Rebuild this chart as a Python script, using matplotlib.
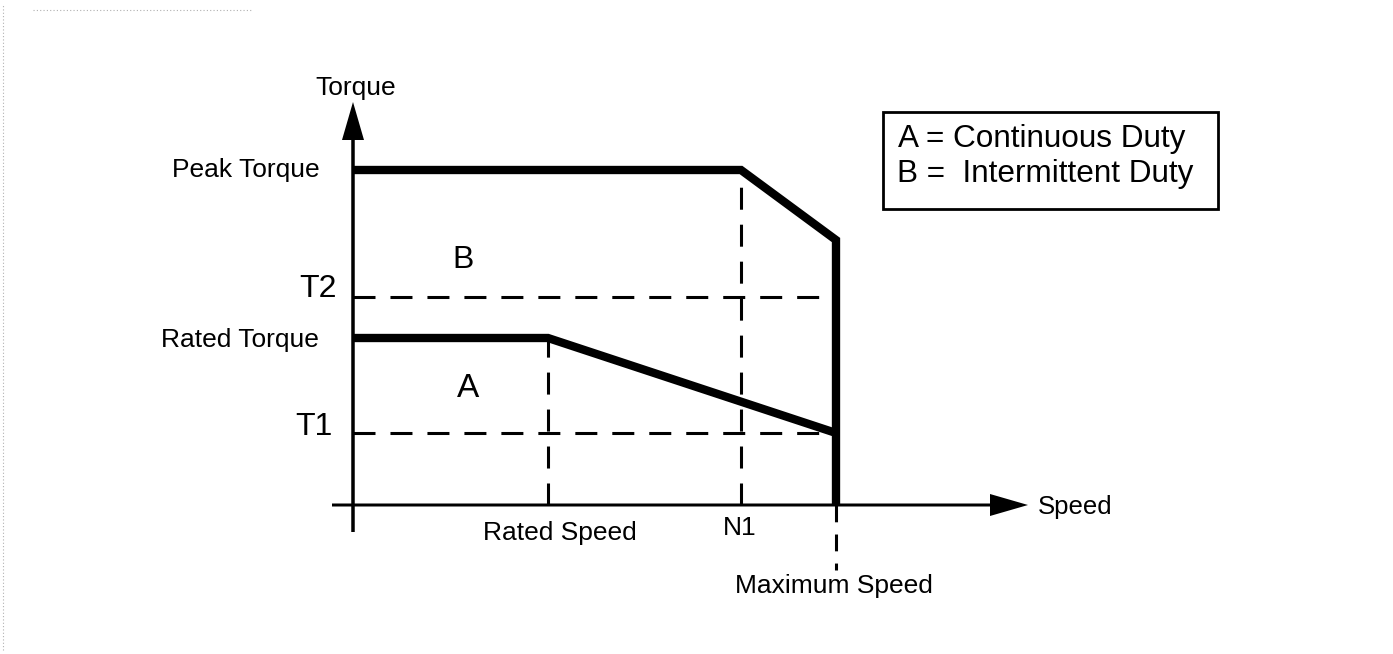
import matplotlib
matplotlib.use("Agg")
import matplotlib.pyplot as plt
from matplotlib.patches import Rectangle

plt.rcParams['font.family'] = ['Liberation Sans', 'DejaVu Sans']

# ---- data (abstract units: speed / torque, origin at 0) ----
rated_speed = 1.95
n1_speed = 3.88
max_speed = 4.83

peak_torque = 3.35
peak_end_torque = 2.65
t2_torque = 2.08
rated_torque = 1.67
t1_torque = 0.72

peak_curve_x = [0, n1_speed, max_speed, max_speed]
peak_curve_y = [peak_torque, peak_torque, peak_end_torque, 0]
rated_curve_x = [0, rated_speed, max_speed]
rated_curve_y = [rated_torque, rated_torque, t1_torque]

legend_lines = ["A = Continuous Duty", "B =  Intermittent Duty"]

# ---- figure ----
W, H = 1393, 654
fig = plt.figure(figsize=(W / 100, H / 100), dpi=100)
ax = fig.add_axes([0, 0, 1, 1])
ax.set_xlim(-3.53, -3.53 + W / 100)
ax.set_ylim(5.05 - H / 100, 5.05)
ax.axis('off')

# faint scan border
ax.plot([-3.50, -3.50], [-1.45, 5.0], color='#b0b0b0', lw=0.8, ls=(0, (1, 2)))
ax.plot([-3.2, -1.0], [4.95, 4.95], color='#b0b0b0', lw=0.8, ls=(0, (1, 2)))

# axes with arrows
ax.arrow(0, -0.27, 0, 4.30, width=0.035, head_width=0.22, head_length=0.38,
         length_includes_head=True, color='black', lw=0)
ax.arrow(-0.21, 0, 6.96, 0, width=0.03, head_width=0.22, head_length=0.38,
         length_includes_head=True, color='black', lw=0)

dash = dict(color='black', lw=2.2, ls=(0, (7.2, 4.9)))
# horizontal dashed references
ax.plot([0, max_speed], [t2_torque, t2_torque], **dash)
ax.plot([0, max_speed], [t1_torque, t1_torque], **dash)
# vertical dashed references
ax.plot([rated_speed, rated_speed], [0, rated_torque], **dash)
ax.plot([n1_speed, n1_speed], [0, peak_torque], **dash)
ax.plot([max_speed, max_speed], [0, -0.65], color='black', lw=2.2, ls=(0, (5.5, 4)))

# thick curves
ax.plot(peak_curve_x, peak_curve_y, color='black', lw=6.0,
        solid_joinstyle='miter', solid_capstyle='butt')
ax.plot(rated_curve_x, rated_curve_y, color='black', lw=6.0,
        solid_joinstyle='miter', solid_capstyle='butt')

# labels
fs = 19
ax.text(-0.38, 4.10, "Torque", fontsize=fs, ha='left', va='baseline')
ax.text(-0.33, 3.28, "Peak Torque", fontsize=fs, ha='right', va='baseline')
ax.text(-0.16, 2.08, "T2", fontsize=23, ha='right', va='baseline')
ax.text(-0.34, 1.58, "Rated Torque", fontsize=fs, ha='right', va='baseline')
ax.text(-0.20, 0.70, "T1", fontsize=23, ha='right', va='baseline')
ax.text(1.10, 2.37, "B", fontsize=23, ha='center', va='baseline')
ax.text(1.15, 1.08, "A", fontsize=24, ha='center', va='baseline')
ax.text(1.30, -0.35, "Rated Speed", fontsize=fs, ha='left', va='baseline')
ax.text(3.70, -0.30, "N1", fontsize=fs, ha='left', va='baseline')
ax.text(3.82, -0.88, "Maximum Speed", fontsize=fs, ha='left', va='baseline')
ax.text(6.85, -0.09, "Speed", fontsize=18.5, ha='left', va='baseline')

# legend box
ax.add_patch(Rectangle((5.30, 2.96), 3.35, 0.97, fill=False, ec='black', lw=2.0))
ax.text(5.45, 3.58, legend_lines[0], fontsize=22.7, ha='left', va='baseline')
ax.text(5.44, 3.23, legend_lines[1], fontsize=22.7, ha='left', va='baseline')

fig.savefig("out.png", dpi=100, facecolor='white')
